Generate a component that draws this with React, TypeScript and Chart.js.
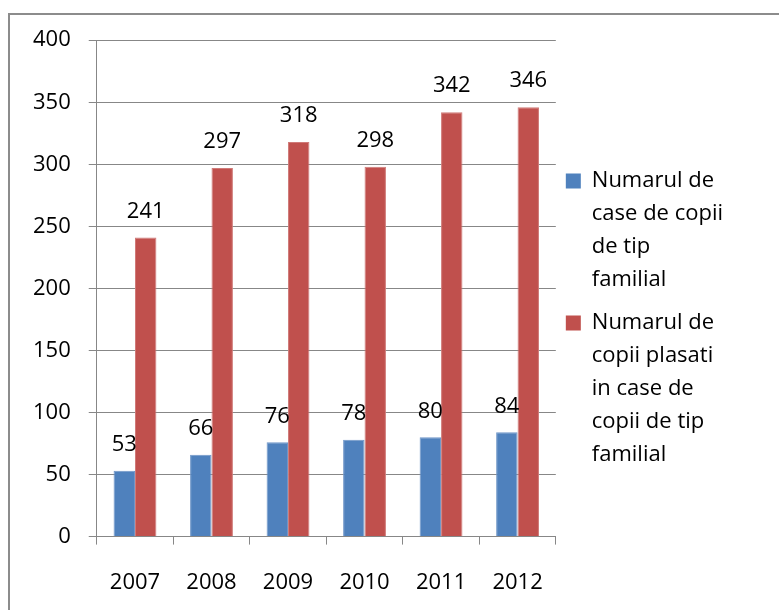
import React, { useEffect, useRef } from "react";
import { Chart, registerables } from "chart.js";

Chart.register(...registerables);

const years = ["2007", "2008", "2009", "2010", "2011", "2012"];
const caseFamiliale = [53, 66, 76, 78, 80, 84];
const copiiPlasati = [241, 297, 318, 298, 342, 346];
const seriesNames = [
  "Numarul de case de copii de tip familial",
  "Numarul de copii plasati in case de copii de tip familial",
];
const legendLines = [
  ["Numarul de", "case de copii", "de tip", "familial"],
  ["Numarul de", "copii plasati", "in case de", "copii de tip", "familial"],
];
const yTicks = [0, 50, 100, 150, 200, 250, 300, 350, 400];

const FONT = "'Open Sans', 'Noto Sans', sans-serif";
const GRID = "#878787";

const dataLabels = {
  id: "dataLabels",
  afterDatasetsDraw(chart: any) {
    const ctx = chart.ctx;
    ctx.save();
    ctx.font = `22px ${FONT}`;
    ctx.fillStyle = "#000";
    ctx.textAlign = "center";
    ctx.textBaseline = "middle";
    chart.data.datasets.forEach((ds: any, i: number) => {
      const meta = chart.getDatasetMeta(i);
      meta.data.forEach((el: any, j: number) => {
        ctx.fillText(String(ds.data[j]), el.x, el.y - 26);
      });
    });
    ctx.restore();
  },
};

export default function App() {
  const ref = useRef<HTMLCanvasElement>(null);
  useEffect(() => {
    if (!ref.current) return;
    Chart.defaults.font.family = FONT;
    const chart = new Chart(ref.current, {
      type: "bar",
      data: {
        labels: years,
        datasets: [
          {
            label: seriesNames[0],
            data: caseFamiliale,
            backgroundColor: "#4F81BD",
            borderColor: "#6F96C8",
            borderWidth: 1,
          },
          {
            label: seriesNames[1],
            data: copiiPlasati,
            backgroundColor: "#C0504D",
            borderColor: "#D07A78",
            borderWidth: 1,
          },
        ],
      },
      options: {
        responsive: false,
        animation: false,
        layout: { padding: { left: 5, top: 0, right: 46, bottom: 0 } },
        datasets: { bar: { categoryPercentage: 0.56, barPercentage: 1 } },
        scales: {
          x: {
            offset: true,
            grid: {
              drawOnChartArea: false,
              drawTicks: true,
              tickLength: 8,
              color: GRID,
              offset: true,
            },
            border: { display: true, color: GRID, width: 1 },
            ticks: { color: "#000", font: { size: 22 }, padding: 25 },
          },
          y: {
            min: 0,
            max: 400,
            afterBuildTicks: (axis: any) => {
              axis.ticks = yTicks.map((v) => ({ value: v }));
            },
            grid: { color: GRID, tickLength: 8, drawTicks: true },
            border: { display: true, color: GRID, width: 1 },
            ticks: { color: "#000", font: { size: 22 }, padding: 18 },
          },
        },
        plugins: {
          tooltip: { enabled: false },
          legend: {
            position: "right",
            align: "start",
            title: {
              display: true,
              text: "",
              padding: { top: 141, bottom: 0 },
              font: { size: 10, lineHeight: 1 },
            },
            labels: {
              boxWidth: 15,
              boxHeight: 15,
              padding: 10,
              color: "#000",
              font: { size: 22, lineHeight: 1.5 },
              generateLabels: (c: any) => {
                const items = Chart.defaults.plugins.legend.labels.generateLabels(c);
                return items.map((it: any, i: number) => ({
                  ...it,
                  text: legendLines[i],
                  lineWidth: 0,
                }));
              },
            },
          },
        },
      },
      plugins: [dataLabels],
    });
    return () => chart.destroy();
  }, []);

  return (
    <div
      style={{
        position: "absolute",
        left: 8,
        top: 13,
        width: 771,
        height: 597,
        boxSizing: "border-box",
        borderTop: "2px solid #8c8c8c",
        borderLeft: "2px solid #8c8c8c",
        background: "#fff",
        overflow: "hidden",
      }}
    >
      <canvas
        ref={ref}
        width={769}
        height={612}
        style={{ display: "block", position: "absolute", left: 0, top: -6 }}
      />
    </div>
  );
}
